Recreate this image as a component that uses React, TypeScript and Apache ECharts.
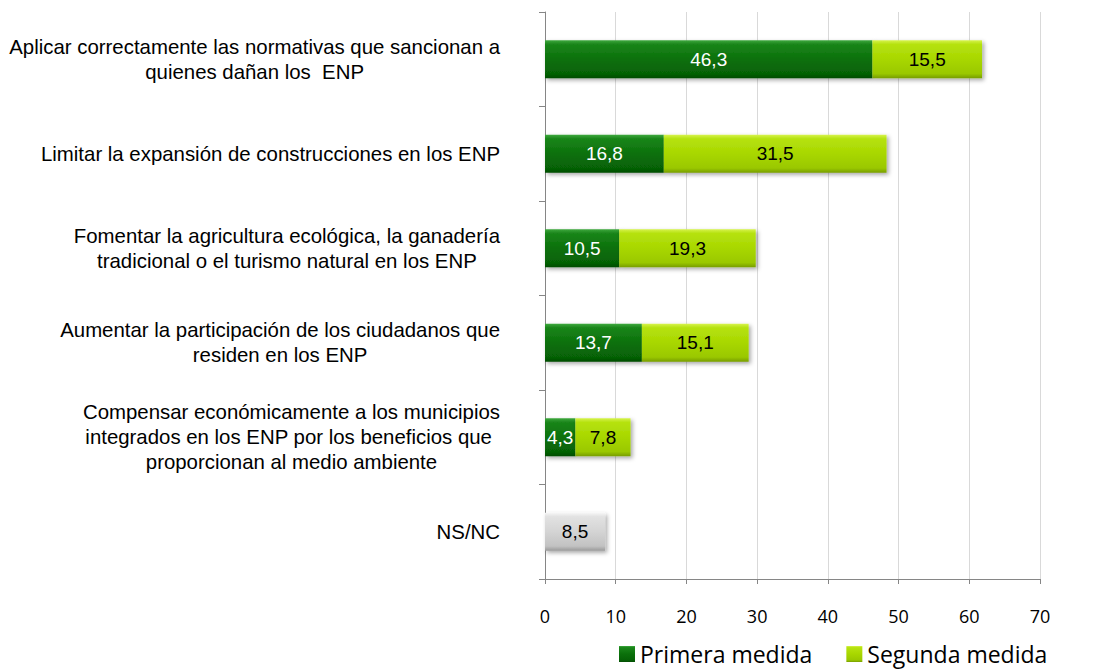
import React, { useEffect, useRef } from "react";
import * as echarts from "echarts";

const categories: string[] = [
  "Aplicar correctamente las normativas que sancionan a\nquienes dañan los  ENP",
  "Limitar la expansión de construcciones en los ENP",
  "Fomentar la agricultura ecológica, la ganadería\ntradicional o el turismo natural en los ENP",
  "Aumentar la participación de los ciudadanos que\nresiden en los ENP",
  "Compensar económicamente a los municipios\nintegrados en los ENP por los beneficios que \nproporcionan al medio ambiente",
  "NS/NC",
];
const primera: number[] = [46.3, 16.8, 10.5, 13.7, 4.3, 8.5];
const segunda: (number | null)[] = [15.5, 31.5, 19.3, 15.1, 7.8, null];
const seriesNames: string[] = ["Primera medida", "Segunda medida"];
const xMin = 0;
const xMax = 70;
const xStep = 10;

const vgrad = (stops: [number, string][]) =>
  new echarts.graphic.LinearGradient(
    0,
    0,
    0,
    1,
    stops.map(([offset, color]) => ({ offset, color }))
  );

const darkGreen = () =>
  vgrad([
    [0, "#3fa83f"],
    [0.1, "#1a861a"],
    [0.5, "#0b700b"],
    [0.88, "#066206"],
    [1, "#044c04"],
  ]);
const lightGreen = () =>
  vgrad([
    [0, "#d6f34c"],
    [0.1, "#b6e210"],
    [0.5, "#a8d700"],
    [0.88, "#9ac800"],
    [1, "#789e00"],
  ]);
const grey = () =>
  vgrad([
    [0, "#f6f6f6"],
    [0.1, "#e2e2e2"],
    [0.5, "#d4d4d4"],
    [0.88, "#c2c2c2"],
    [1, "#9a9a9a"],
  ]);

const fmt = (p: any) =>
  p.value === null || p.value === undefined ? "" : String(p.value).replace(".", ",");

export default function App() {
  const ref = useRef<HTMLDivElement>(null);
  useEffect(() => {
    if (!ref.current) return;
    const chart = echarts.init(ref.current, null, { renderer: "svg" });
    const shadow = {
      shadowBlur: 4,
      shadowColor: "rgba(0,0,0,0.35)",
      shadowOffsetX: 2,
      shadowOffsetY: 2,
    };
    chart.setOption({
      animation: false,
      backgroundColor: "#ffffff",
      grid: { left: 545, right: 57, top: 12, bottom: 93, containLabel: false },
      legend: {
        left: 614,
        top: 636,
        itemWidth: 16,
        itemHeight: 16,
        itemGap: 34,
        icon: "rect",
        textStyle: {
          fontFamily: "Open Sans",
          fontSize: 23,
          lineHeight: 26,
          color: "#000",
        },
        data: [
          { name: seriesNames[0], itemStyle: { color: darkGreen() } },
          { name: seriesNames[1], itemStyle: { color: lightGreen() } },
        ],
      },
      xAxis: {
        type: "value",
        min: xMin,
        max: xMax,
        interval: xStep,
        axisLine: { show: true, lineStyle: { color: "#868686" } },
        axisTick: { show: true, length: 5, lineStyle: { color: "#868686" } },
        axisLabel: {
          margin: 28,
          fontFamily: "Open Sans",
          fontSize: 18,
          color: "#000",
        },
        splitLine: { show: true, lineStyle: { color: "#d9d9d9", width: 1 } },
      },
      yAxis: {
        type: "category",
        inverse: true,
        data: categories,
        axisLine: { show: true, lineStyle: { color: "#868686" } },
        axisTick: { show: true, length: 6, lineStyle: { color: "#868686" } },
        splitLine: { show: false },
        axisLabel: {
          margin: 45,
          align: "right",
          formatter: (v: string) =>
            v
              .split("\n")
              .map((l) => `{c|${l}}`)
              .join("\n"),
          rich: {
            c: {
              align: "center",
              fontFamily: "Liberation Sans, Arial",
              fontSize: 20.4,
              lineHeight: 25,
              color: "#000",
            },
          },
        },
      },
      series: [
        {
          name: seriesNames[0],
          type: "bar",
          stack: "total",
          barWidth: "40%",
          data: primera.map((v, i) =>
            i === categories.length - 1
              ? {
                  value: v,
                  itemStyle: { color: grey(), ...shadow },
                  label: { color: "#000" },
                }
              : v
          ),
          itemStyle: { color: darkGreen(), ...shadow },
          label: {
            show: true,
            position: "inside",
            formatter: fmt,
            fontFamily: "Liberation Sans, Arial",
            fontSize: 19,
            color: "#ffffff",
          },
        },
        {
          name: seriesNames[1],
          type: "bar",
          stack: "total",
          barWidth: "40%",
          data: segunda,
          itemStyle: { color: lightGreen(), ...shadow },
          label: {
            show: true,
            position: "inside",
            formatter: fmt,
            fontFamily: "Liberation Sans, Arial",
            fontSize: 19,
            color: "#000",
          },
        },
      ],
    });
    return () => chart.dispose();
  }, []);
  return (
    <div
      ref={ref}
      style={{ position: "fixed", left: 0, top: 0, width: 1097, height: 672 }}
    />
  );
}
